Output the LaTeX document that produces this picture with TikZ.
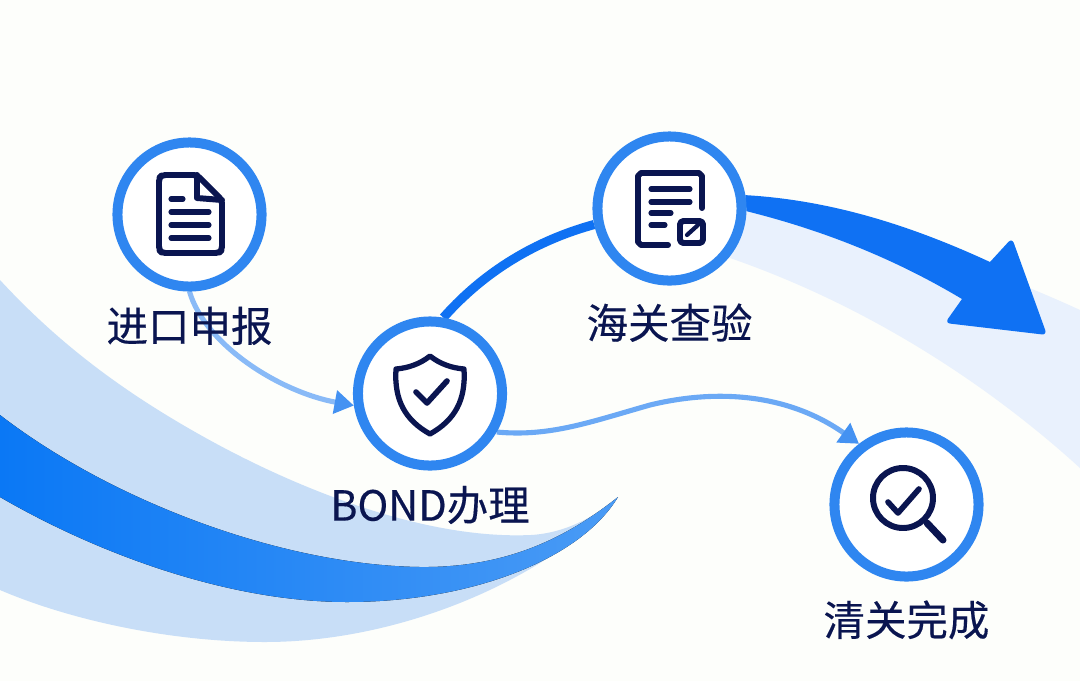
\documentclass[tikz,border=0pt]{standalone}
\usepackage{fontspec}
\usetikzlibrary{arrows.meta, positioning, backgrounds}
\newfontfamily\cjk[FakeBold=0.35]{Noto Sans CJK SC}

\definecolor{paper}{HTML}{FDFEFB}
\definecolor{ringblue}{HTML}{2F86F0}
\definecolor{flowblue}{HTML}{0F71F3}
\definecolor{thinblue}{HTML}{6BA9F5}
\definecolor{navyink}{HTML}{0A1550}
\definecolor{paleright}{HTML}{E9F1FD}
\definecolor{palemid}{HTML}{C8DEF7}
\definecolor{deepband}{HTML}{0A78F5}
\definecolor{midband}{HTML}{1780F6}
\definecolor{tipband}{HTML}{4A9BF5}

\tikzset{
  stepring/.style={circle, draw=ringblue, fill=white, line width=5.7pt, minimum size=82pt, inner sep=0pt},
  steplabel/.style={font=\cjk\fontsize{23.6}{24}\selectfont, text=navyink, inner sep=0pt, text height=20pt, text depth=3pt},
  thinflow/.style={thinblue, line width=2.9pt, -{Triangle[length=11pt, width=13pt, color=ringblue!90!white]}},
  iconline/.style={navyink, line width=3.4pt, line cap=round, line join=round},
}

\begin{document}
\begin{tikzpicture}[x=0.02cm, y=-0.02cm]
\useasboundingbox (0,0) rectangle (1080,681);

% The four steps
\node[stepring] (declare) at (189.5,214.5) {};
\node[stepring] (bond) at (430,393.5) {};
\node[stepring] (inspect) at (669.5,208.5) {};
\node[stepring] (clear) at (906.5,504.5) {};

\node[steplabel, below=8.3pt of declare] (declarelabel) {进口申报};
\node[steplabel, below=8.3pt of bond] (bondlabel) {BOND办理};
\node[steplabel, below=10pt of inspect] (inspectlabel) {海关查验};
\node[steplabel, below=10.6pt of clear] (clearlabel) {清关完成};

\begin{pgfonlayer}{background}
% Paper
\fill[paper] (0,0) rectangle (1080,681);

% Pale band on the right
\fill[paleright] (700,262) -- (747,212) .. controls (830,222) and (950,250) .. (1080,310)
  -- (1080,468) .. controls (1000,395) and (880,310) .. (730,258) -- cycle;

% Pale band on the left
\fill[palemid] (0,280) .. controls (60,345) and (125,393) .. (204,437)
  .. controls (290,485) and (420,540) .. (531,535)
  .. controls (565,533) and (595,517) .. (618,497)
  -- (560,550) .. controls (480,605) and (370,642) .. (265,642)
  .. controls (170,642) and (70,620) .. (0,590) -- cycle;

% Strong band
\fill[left color=deepband, middle color=midband, right color=tipband] (618,497)
  .. controls (570,535) and (510,568) .. (420,567)
  .. controls (280,565) and (110,500) .. (0,415)
  -- (0,497) .. controls (100,555) and (230,602) .. (347,602)
  .. controls (470,602) and (580,560) .. (618,497) -- cycle;

% Connectors
\draw[thinflow, thinblue!80!white] (declare.-90) .. controls (205,345) and (280,392) .. (bond.189);
\draw[thinflow] (bond.-30) .. controls (550,437) and (590,422) .. (650,405)
  .. controls (720,388) and (790,395) .. (clear.128);
\draw[flowblue, line width=5.2pt] (bond.80) .. controls (490,265) and (545,238) .. (inspect.192);

% Big arrow out of the last step
\fill[flowblue] (inspect.10) .. controls (830,200) and (910,225) .. (990,262)
  [rounded corners=3pt] -- (1012,238) -- (1047,335) -- (945,323) [sharp corners]
  -- (962,299) .. controls (900,262) and (830,232) .. (inspect.-2) -- cycle;
\end{pgfonlayer}

% Document icon
\draw[iconline, rounded corners=2pt] (197,175) -- (162,175) -- (159,178) -- (159,250) -- (162,253) -- (219,253) -- (222,250) -- (222,200) -- cycle;
\draw[iconline] (197,175) -- (197,198) -- (222,200);
\foreach \y/\xend in {199/183, 212/209, 225/209, 238/209} {
  \draw[iconline, line width=2.9pt] (171,\y) -- (\xend,\y);
}

% Shield icon
\draw[iconline, line width=3pt] (430,356) .. controls (420,364) and (408,368) .. (396,369)
  .. controls (394,400) and (405,420) .. (430,434)
  .. controls (455,420) and (466,400) .. (464,369)
  .. controls (452,368) and (440,364) .. (430,356) -- cycle;
\draw[iconline, line width=3.2pt] (416,392) -- (427,403) -- (447,381);

% Form icon
\draw[iconline] (668,245) -- (641,245) -- (638,242) -- (638,176) -- (641,173) -- (699,173) -- (702,176) -- (702,208);
\foreach \y/\xend in {189/690, 202/690, 213/671, 225/665} {
  \draw[iconline, line width=2.9pt] (651,\y) -- (\xend,\y);
}
\draw[iconline, rounded corners=2pt] (680,221) rectangle (703,243);
\draw[iconline, line width=2.4pt] (687,235) -- (698,225);

% Magnifier icon
\draw[iconline] (903,498) circle (30);
\draw[iconline, line width=4pt] (927,523) -- (943,540);
\draw[iconline, line width=3.2pt] (888,502) -- (898,513) -- (919,489);
\end{tikzpicture}
\end{document}
